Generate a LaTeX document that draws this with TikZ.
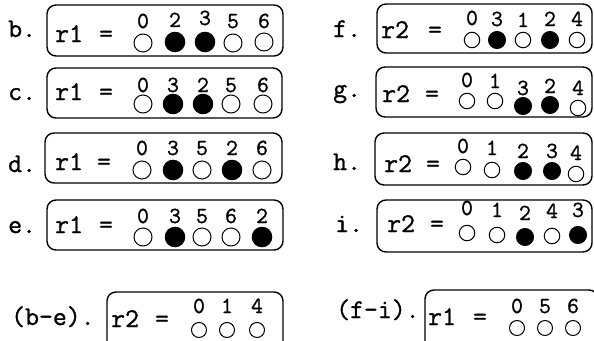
\documentclass[tikz,border=0pt]{standalone}
\usepackage{fontspec}
\setmonofont{Latin Modern Mono}[FakeBold=1.2]
\newcommand\drawbeads[4]{%
  \foreach \x/\d/\dy/\cy/\t [count=\k] in {#4}{%
    \node[dig] (#1d\k) at (\x,\dy) {\d};
    \if k\t
      \node[bead, fill=black, minimum size=#3] (#1c\k) at (\x,\cy) {};
    \else
      \node[bead, fill=white, minimum size=#2] (#1c\k) at (\x,\cy) {};
    \fi
  }}
\begin{document}
\begin{tikzpicture}[x=1pt,y=-1pt,
  box/.style={line width=1.4pt, rounded corners=9pt},
  lbl/.style={anchor=base west, inner sep=0pt, font=\fontsize{27}{30}\selectfont\ttfamily},
  eqs/.style={anchor=base, inner sep=0pt, font=\fontsize{27}{30}\selectfont\ttfamily},
  dig/.style={anchor=base, inner sep=0pt, font=\fontsize{23}{26}\selectfont\ttfamily},
  bead/.style={circle, draw, line width=1pt, inner sep=0pt, outer sep=0pt}]
\useasboundingbox (0,0) rectangle (594,340);
\clip (0,0) rectangle (594,340);

% ---- left column ----
\node[lbl] (lb) at (8,37) {b.};
\draw[box] (47,5) rectangle (283,56);
\node[lbl] (rb) at (55,42) {r1};
\node[eqs] (eb) at (106,42) {=};
\drawbeads{b}{18pt}{19.5pt}{143/0/28/43/w, 175/2/27/42/k, 205/3/25/42/k, 233/5/28/43/w, 264/6/28/42/w}

\node[lbl] (lc) at (8,100) {c.};
\draw[box] (47,68) rectangle (282,118);
\node[lbl] (rc) at (55,100) {r1};
\node[eqs] (ec) at (106,100) {=};
\drawbeads{c}{18pt}{19.5pt}{143/0/92/104/w, 173/3/92/104/k, 203/2/92/104/k, 231/5/92/104/w, 263/6/92/104/w}

\node[lbl] (ld) at (8,172) {d.};
\draw[box] (45,133) rectangle (282,183);
\node[lbl] (rd) at (55,170) {r1};
\node[eqs] (ed) at (104,170) {=};
\drawbeads{d}{18pt}{19.5pt}{142/0/155/170/w, 173/3/155/170/k, 202/5/155/170/w, 232/2/155/170/k, 262/6/155/170/w}

\node[lbl] (le) at (8,233) {e.};
\draw[box] (47,200) rectangle (283,250);
\node[lbl] (re) at (55,233) {r1};
\node[eqs] (ee) at (106,233) {=};
\drawbeads{e}{18pt}{19.5pt}{143/0/223/237/w, 175/3/223/237/k, 202/5/223/237/w, 231/6/223/237/w, 262/2/223/237/k}

% ---- right column ----
\node[lbl] (lf) at (333,37) {f.};
\draw[box] (377,4) rectangle (592,53);
\node[lbl] (rf) at (381,38) {r2};
\node[eqs] (ef) at (435,38) {=};
\drawbeads{f}{15.5pt}{17pt}{472/0/25/40/w, 497/3/26/40/k, 523/1/27/40/w, 550/2/26/40/k, 577/4/26/40/w}

\node[lbl] (lg) at (333,97) {g.};
\draw[box] (376,67) rectangle (592,117);
\node[lbl] (rg) at (382,102) {r2};
\node[eqs] (eg) at (432,102) {=};
\drawbeads{g}{15.5pt}{17pt}{467/0/87/101/w, 495/1/88/101/w, 523/3/95/106/k, 550/2/93/105/k, 578/4/95/108/w}

\node[lbl] (lh) at (333,170) {h.};
\draw[box] (375,133) rectangle (592,185);
\node[lbl] (rh) at (384,172) {r2};
\node[eqs] (eh) at (433,172) {=};
\drawbeads{h}{15.5pt}{17pt}{463/0/153/167/w, 492/1/155/170/w, 523/2/158/171/k, 552/3/158/171/k, 576/4/160/174/w}

\node[lbl] (li) at (335,232) {i.};
\draw[box] (377,200) rectangle (592,252);
\node[lbl] (ri) at (387,232) {r2};
\node[eqs] (ei) at (437,232) {=};
\drawbeads{i}{15.5pt}{17pt}{467/0/215/233/w, 497/1/217/235/w, 525/2/220/237/k, 552/4/218/236/w, 578/3/217/235/k}

% ---- bottom row ----
\node[lbl] (lbe) at (11,325) {(b-e).};
\draw[box] (107,292) rectangle (283,350);
\node[lbl] (rbe) at (111,327) {r2};
\node[eqs] (ebe) at (162,327) {=};
\drawbeads{x}{15pt}{15pt}{199/0/313/330/w, 227/1/313/330/w, 257/4/313/330/w}

\node[lbl] (lfi) at (336,318) {(f-i).};
\draw[box] (425,290) rectangle (598,350);
\node[lbl] (rfi) at (428,325) {r1};
\node[eqs] (efi) at (480,325) {=};
\drawbeads{y}{15pt}{15pt}{517/0/313/328/w, 545/5/313/328/w, 573/6/313/328/w}
\end{tikzpicture}
\end{document}
